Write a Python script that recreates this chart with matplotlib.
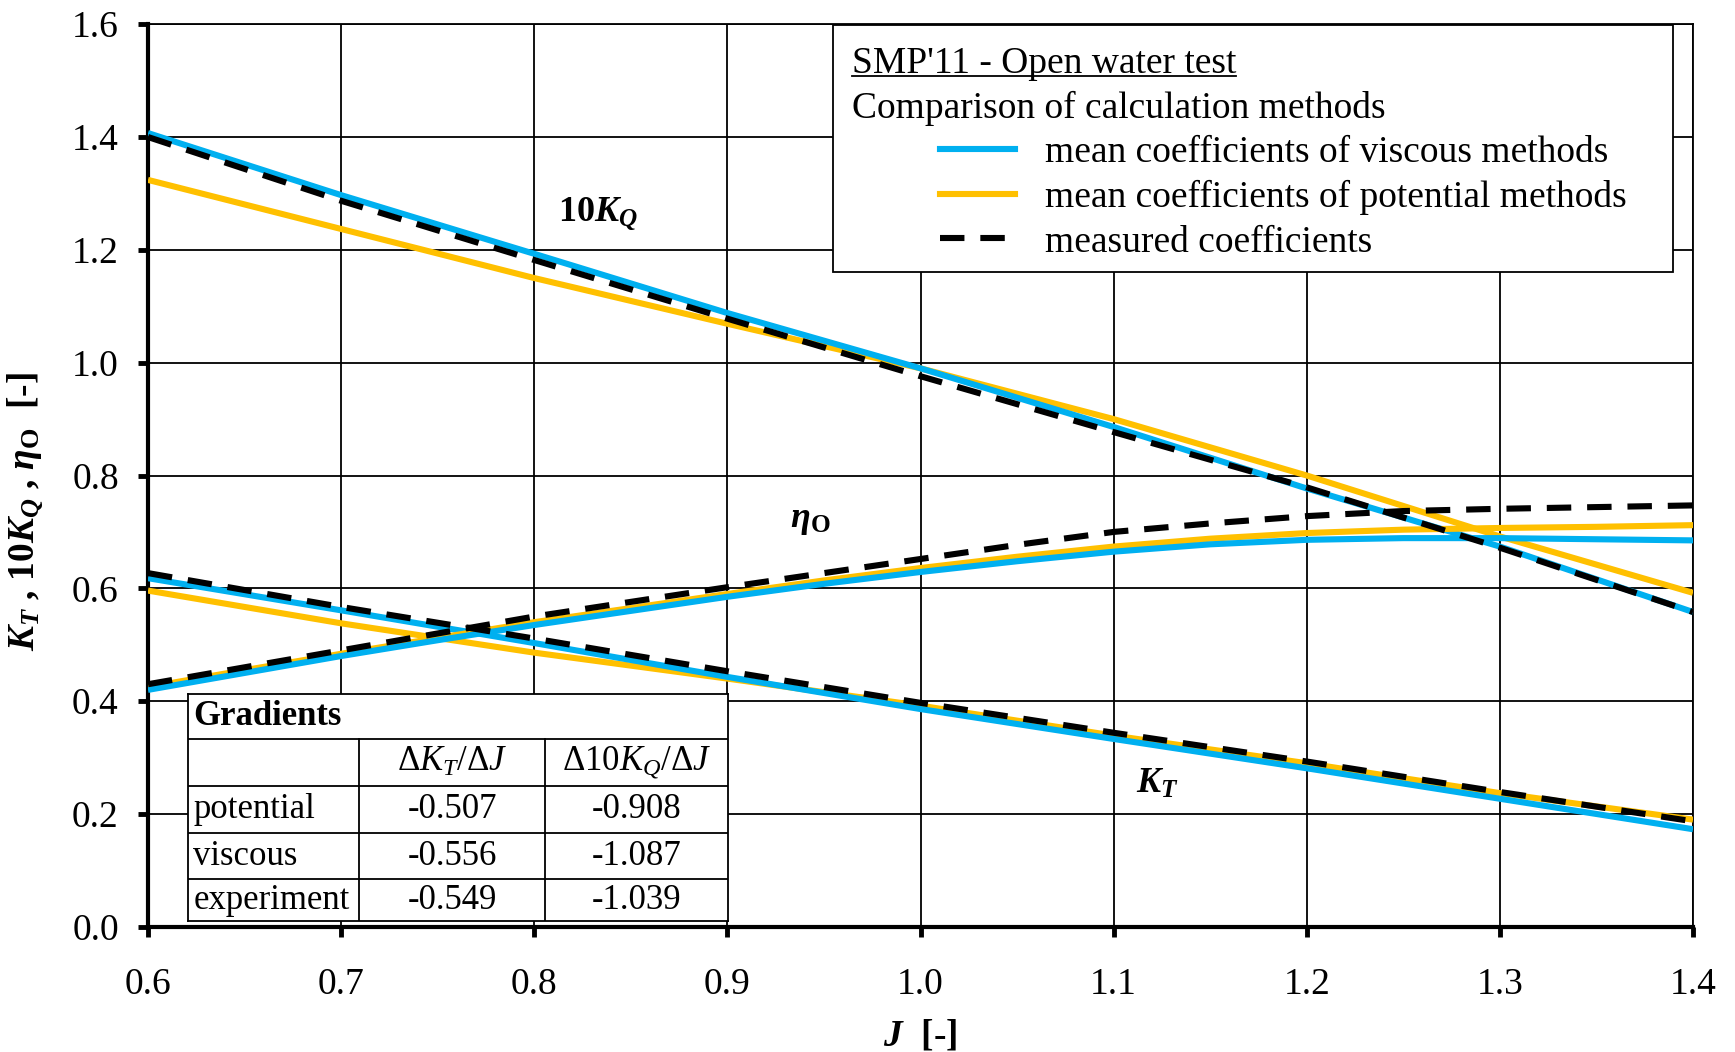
import matplotlib
matplotlib.use('Agg')
import matplotlib.pyplot as plt
from matplotlib.lines import Line2D
from matplotlib.patches import Rectangle

plt.rcParams.update({
    'font.family': ['Liberation Serif', 'DejaVu Serif'],
    'mathtext.fontset': 'custom',
    'mathtext.rm': 'Liberation Serif',
    'mathtext.it': 'Liberation Serif:italic',
    'mathtext.bf': 'Liberation Serif:bold',
    'mathtext.bfit': 'Liberation Serif:italic:bold',
})

# ---------------- data ----------------
J = [0.6, 0.7, 0.8, 0.9, 1.0, 1.1, 1.2, 1.3, 1.4]
KQ10_viscous = [1.407, 1.297, 1.193, 1.088, 0.990, 0.886, 0.777, 0.674, 0.558]
KQ10_potential = [1.324, 1.237, 1.150, 1.069, 0.990, 0.900, 0.800, 0.692, 0.592]
KQ10_measured = [1.400, 1.287, 1.182, 1.078, 0.976, 0.877, 0.779, 0.672, 0.558]

KT_viscous = [0.618, 0.561, 0.503, 0.443, 0.386, 0.333, 0.281, 0.227, 0.173]
KT_potential = [0.596, 0.538, 0.486, 0.440, 0.392, 0.339, 0.290, 0.237, 0.190]
KT_measured = [0.627, 0.567, 0.511, 0.453, 0.397, 0.344, 0.293, 0.239, 0.187]

J_eta = [0.6, 0.65, 0.7, 0.75, 0.8, 0.85, 0.9, 0.95, 1.0, 1.05, 1.1, 1.15, 1.2, 1.25, 1.3, 1.35, 1.4]
eta_viscous = [0.420, 0.450, 0.480, 0.508, 0.535, 0.560, 0.585, 0.608, 0.629, 0.648, 0.665, 0.678, 0.686, 0.689, 0.689, 0.687, 0.685]
eta_potential = [0.425, 0.455, 0.484, 0.512, 0.540, 0.565, 0.590, 0.614, 0.636, 0.656, 0.674, 0.688, 0.698, 0.704, 0.707, 0.709, 0.712]
eta_measured = [0.430, 0.460, 0.490, 0.520, 0.550, 0.576, 0.602, 0.627, 0.652, 0.677, 0.700, 0.715, 0.728, 0.737, 0.741, 0.744, 0.747]

x_ticks = [0.6, 0.7, 0.8, 0.9, 1.0, 1.1, 1.2, 1.3, 1.4]
y_ticks = [0.0, 0.2, 0.4, 0.6, 0.8, 1.0, 1.2, 1.4, 1.6]

legend_labels = ['mean coefficients of viscous methods',
                 'mean coefficients of potential methods',
                 'measured coefficients']
legend_title = "SMP'11 - Open water test"
legend_subtitle = 'Comparison of calculation methods'

table_title = 'Gradients'
table_cols = [r'$\Delta K_T/\Delta J$', r'$\Delta 10K_Q/\Delta J$']
table_rows = ['potential', 'viscous', 'experiment']
grad_KT = [-0.507, -0.556, -0.549]
grad_KQ10 = [-0.908, -1.087, -1.039]

# ---------------- styles ----------------
C_VIS = '#00B0F0'
C_POT = '#FFC000'
LW = 4.4
DASH = (4.0, 2.6)

fig = plt.figure(figsize=(17.35, 10.52), dpi=100)
ax = fig.add_axes([0.0853, 0.119, 0.8905, 0.858])

for y_v, y_p, y_m, xx in [(KQ10_viscous, KQ10_potential, KQ10_measured, J),
                          (KT_viscous, KT_potential, KT_measured, J),
                          (eta_viscous, eta_potential, eta_measured, J_eta)]:
    ax.plot(xx, y_p, color=C_POT, lw=LW, solid_capstyle='butt', zorder=3)
    ax.plot(xx, y_v, color=C_VIS, lw=LW, solid_capstyle='butt', zorder=3)
    ax.plot(xx, y_m, color='black', lw=LW, dashes=DASH, dash_capstyle='butt', zorder=4)

ax.set_xlim(0.6, 1.4)
ax.set_ylim(0.0, 1.6)
ax.set_xticks(x_ticks)
ax.set_yticks(y_ticks)
ax.set_xticklabels([f'{v:.1f}' for v in x_ticks])
ax.set_yticklabels([f'{v:.1f}' for v in y_ticks])
ax.grid(True, color='black', lw=1.3, zorder=1)
ax.set_axisbelow(True)
for s in ['left', 'bottom']:
    ax.spines[s].set_linewidth(3.0)
for s in ['top', 'right']:
    ax.spines[s].set_linewidth(1.3)
ax.tick_params(axis='both', direction='out', length=7, width=3.5, labelsize=27)
ax.tick_params(axis='x', pad=22)
ax.tick_params(axis='y', pad=14)

ax.set_xlabel(r'$\mathbfit{J}$  [-]', fontsize=27, fontweight='bold', labelpad=12)
ax.set_ylabel(r'$\mathbfit{K_T}$ , 10$\mathbfit{K_Q}$ , $\mathbfit{\eta}_\mathbf{O}$  [-]',
              fontsize=27, fontweight='bold')
ax.yaxis.set_label_coords(-0.066, 0.46)

# curve labels
ax.text(0.833, 1.265, r'$\mathbf{10}\mathbfit{K_Q}$', fontsize=26, ha='center', va='center', zorder=6)
ax.text(0.943, 0.72, r'$\mathbfit{\eta}_\mathbf{O}$', fontsize=26, ha='center', va='center', zorder=6)
ax.text(1.1226, 0.253, r'$\mathbfit{K_T}$', fontsize=26, ha='center', va='center', zorder=6)

# ---------------- legend box ----------------
box = Rectangle((0.4434, 0.7255), 0.9871 - 0.4434, 0.9988 - 0.7255, transform=ax.transAxes,
                facecolor='white', edgecolor='black', lw=1.3, zorder=7)
ax.add_patch(box)
t_title = ax.text(0.4556, 0.9562, legend_title, transform=ax.transAxes, fontsize=27,
                  ha='left', va='center', zorder=8)
ax.text(0.4556, 0.9070, legend_subtitle, transform=ax.transAxes, fontsize=27,
        ha='left', va='center', zorder=8)
handles = [Line2D([], [], color=C_VIS, lw=LW),
           Line2D([], [], color=C_POT, lw=LW),
           Line2D([], [], color='black', lw=LW, dashes=DASH, dash_capstyle='butt')]
leg = ax.legend(handles, legend_labels, loc='upper left', bbox_to_anchor=(0.5129, 0.877),
                frameon=False, fontsize=27, handlelength=2.0, handletextpad=0.8,
                labelspacing=0.27, borderpad=0, borderaxespad=0)
leg.set_zorder(9)

fig.canvas.draw()
bb = t_title.get_window_extent()
inv = ax.transAxes.inverted()
(x0, y0), (x1, y1) = inv.transform([[bb.x0, bb.y0], [bb.x1, bb.y1]])
ax.add_line(Line2D([x0, x1], [y0 + 0.006, y0 + 0.006], transform=ax.transAxes,
                   color='black', lw=1.3, zorder=8))

# ---------------- gradients table ----------------
pos = ax.get_position()
tax = fig.add_axes([pos.x0 + 0.0258 * pos.width,
                    pos.y0 + 0.0061 * pos.height,
                    0.3496 * pos.width,
                    0.2513 * pos.height])
tax.set_xlim(0, 1)
tax.set_ylim(0, 1)
tax.set_xticks([])
tax.set_yticks([])
for s in tax.spines.values():
    s.set_linewidth(1.3)
tax.set_facecolor('white')

row_edges = [1.0, 1 - 40 / 205, 1 - 83 / 205, 1 - 125 / 205, 1 - 167 / 205, 0.0]
col_edges = [0.0, 155 / 488, 323 / 488, 1.0]
for y in row_edges[1:-1]:
    tax.axhline(y, color='black', lw=1.3)
for x in col_edges[1:-1]:
    tax.plot([x, x], [0, row_edges[1]], color='black', lw=1.3)

def rc(i):
    return (row_edges[i] + row_edges[i + 1]) / 2

tax.text(0.01, rc(0), table_title, fontsize=25, fontweight='bold', ha='left', va='center')
for j, lab in enumerate(table_cols):
    tax.text((col_edges[j + 1] + col_edges[j + 2]) / 2, rc(1), lab, fontsize=25,
             ha='center', va='center')
for i, name in enumerate(table_rows):
    tax.text(0.01, rc(i + 2), name, fontsize=25, ha='left', va='center')
    tax.text((col_edges[1] + col_edges[2]) / 2, rc(i + 2), f'{grad_KT[i]:.3f}', fontsize=25,
             ha='center', va='center')
    tax.text((col_edges[2] + col_edges[3]) / 2, rc(i + 2), f'{grad_KQ10[i]:.3f}', fontsize=25,
             ha='center', va='center')

fig.savefig('out.png', dpi=100)
